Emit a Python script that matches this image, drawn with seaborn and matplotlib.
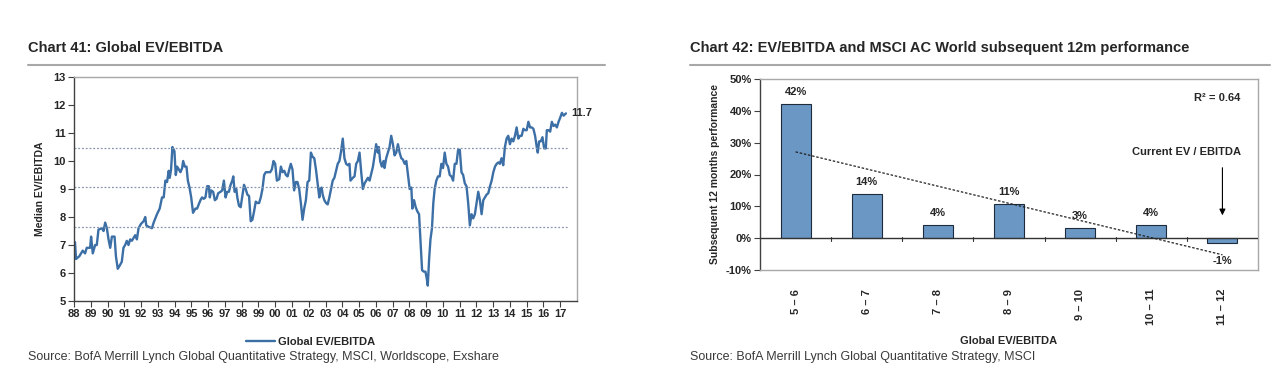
import numpy as np
import pandas as pd
import seaborn as sns
import matplotlib.pyplot as plt
from matplotlib import font_manager
from matplotlib.lines import Line2D

# Chart 41: median global EV/EBITDA (decimal years)
ev_dates = [
    1988.00, 1988.06, 1988.12, 1988.32, 1988.52, 1988.66, 1988.76, 1988.96, 1989.02, 1989.12,
    1989.26, 1989.36, 1989.46, 1989.66, 1989.76, 1989.86, 1989.96, 1990.06, 1990.16, 1990.26,
    1990.42, 1990.50, 1990.61, 1990.71, 1990.85, 1990.95, 1991.05, 1991.15, 1991.25, 1991.35,
    1991.45, 1991.65, 1991.75, 1991.85, 1991.99, 1992.15, 1992.25, 1992.31, 1992.45, 1992.65,
    1992.75, 1992.95, 1993.11, 1993.25, 1993.35, 1993.45, 1993.55, 1993.65, 1993.71, 1993.79,
    1993.87, 1993.99, 1994.07, 1994.15, 1994.25, 1994.35, 1994.45, 1994.51, 1994.61, 1994.71,
    1994.79, 1994.89, 1994.99, 1995.10, 1995.24, 1995.34, 1995.44, 1995.54, 1995.64, 1995.74,
    1995.84, 1995.94, 1996.04, 1996.10, 1996.18, 1996.30, 1996.40, 1996.50, 1996.60, 1996.74,
    1996.84, 1996.94, 1997.04, 1997.14, 1997.24, 1997.34, 1997.44, 1997.50, 1997.58, 1997.68,
    1997.74, 1997.84, 1997.94, 1998.04, 1998.14, 1998.24, 1998.34, 1998.44, 1998.54, 1998.64,
    1998.74, 1998.84, 1998.94, 1999.04, 1999.14, 1999.24, 1999.34, 1999.44, 1999.54, 1999.70,
    1999.80, 1999.90, 2000.00, 2000.10, 2000.24, 2000.34, 2000.44, 2000.54, 2000.64, 2000.74,
    2000.84, 2000.93, 2001.03, 2001.13, 2001.23, 2001.33, 2001.43, 2001.53, 2001.63, 2001.73,
    2001.83, 2001.93, 2002.03, 2002.13, 2002.23, 2002.33, 2002.43, 2002.53, 2002.63, 2002.69,
    2002.77, 2002.83, 2002.93, 2003.03, 2003.13, 2003.23, 2003.33, 2003.43, 2003.53, 2003.63,
    2003.73, 2003.83, 2003.93, 2004.03, 2004.13, 2004.23, 2004.33, 2004.43, 2004.49, 2004.63,
    2004.73, 2004.83, 2004.93, 2005.03, 2005.13, 2005.23, 2005.33, 2005.43, 2005.53, 2005.63,
    2005.73, 2005.83, 2005.93, 2006.02, 2006.12, 2006.18, 2006.26, 2006.36, 2006.46, 2006.52,
    2006.62, 2006.72, 2006.82, 2006.92, 2007.02, 2007.12, 2007.22, 2007.32, 2007.42, 2007.52,
    2007.62, 2007.72, 2007.82, 2007.92, 2008.02, 2008.12, 2008.18, 2008.28, 2008.38, 2008.48,
    2008.58, 2008.68, 2008.76, 2008.86, 2008.96, 2009.04, 2009.10, 2009.18, 2009.26, 2009.35,
    2009.43, 2009.51, 2009.61, 2009.71, 2009.81, 2009.91, 2010.01, 2010.11, 2010.21, 2010.31,
    2010.41, 2010.51, 2010.61, 2010.71, 2010.81, 2010.91, 2011.01, 2011.11, 2011.21, 2011.31,
    2011.41, 2011.51, 2011.61, 2011.71, 2011.81, 2011.91, 2012.01, 2012.11, 2012.21, 2012.31,
    2012.41, 2012.51, 2012.61, 2012.71, 2012.81, 2012.91, 2013.01, 2013.11, 2013.21, 2013.31,
    2013.40, 2013.50, 2013.60, 2013.70, 2013.80, 2013.90, 2014.00, 2014.10, 2014.20, 2014.30,
    2014.40, 2014.50, 2014.60, 2014.70, 2014.80, 2014.90, 2015.00, 2015.10, 2015.20, 2015.30,
    2015.40, 2015.50, 2015.60, 2015.66, 2015.74, 2015.84, 2015.94, 2016.04, 2016.14, 2016.20,
    2016.30, 2016.40, 2016.50, 2016.60, 2016.70, 2016.80, 2016.90, 2017.00, 2017.10, 2017.20,
    2017.34,
]
ev_values = [
    7.00, 7.10, 6.50, 6.60, 6.80, 6.70, 6.90, 6.90, 7.30, 6.70,
    7.00, 7.00, 7.55, 7.60, 7.50, 7.80, 7.60, 7.20, 6.90, 7.30,
    7.30, 6.60, 6.15, 6.25, 6.40, 6.90, 7.00, 7.15, 7.00, 7.20,
    7.15, 7.35, 7.20, 7.60, 7.75, 7.85, 8.00, 7.70, 7.65, 7.60,
    7.80, 8.10, 8.30, 8.70, 8.70, 9.30, 9.25, 9.65, 9.40, 9.70,
    10.50, 10.35, 9.50, 9.80, 9.70, 9.60, 9.75, 10.00, 9.80, 9.80,
    9.30, 9.05, 8.70, 8.15, 8.30, 8.30, 8.45, 8.60, 8.70, 8.65,
    8.70, 9.10, 9.10, 8.70, 8.95, 8.90, 8.60, 8.65, 8.85, 8.90,
    8.95, 9.30, 8.70, 8.90, 8.90, 9.15, 9.30, 9.45, 8.90, 9.00,
    8.70, 8.40, 8.35, 8.75, 9.15, 9.00, 8.80, 8.75, 7.85, 7.90,
    8.20, 8.55, 8.50, 8.50, 8.70, 9.00, 9.50, 9.60, 9.60, 9.60,
    9.70, 10.00, 9.90, 9.30, 9.35, 9.80, 9.60, 9.65, 9.50, 9.45,
    9.70, 9.90, 9.70, 8.95, 9.25, 9.25, 9.00, 8.50, 7.90, 8.30,
    8.60, 9.25, 9.30, 10.30, 10.15, 10.10, 9.70, 9.20, 8.70, 9.00,
    9.05, 8.80, 8.60, 8.50, 8.45, 8.70, 9.00, 9.30, 9.40, 9.65,
    9.90, 10.00, 10.35, 10.80, 10.10, 9.90, 9.85, 9.90, 9.30, 9.40,
    9.45, 9.90, 10.00, 10.30, 9.60, 9.00, 9.20, 9.30, 9.40, 9.30,
    9.55, 9.80, 10.20, 10.60, 10.30, 10.50, 10.00, 9.80, 10.00, 9.75,
    10.10, 10.30, 10.50, 10.90, 10.60, 10.20, 10.30, 10.60, 10.30, 10.10,
    10.05, 9.90, 10.00, 9.50, 9.00, 9.05, 8.30, 8.60, 8.35, 8.20,
    8.10, 7.00, 6.10, 6.05, 6.05, 5.80, 5.55, 6.50, 7.20, 7.60,
    8.50, 9.00, 9.30, 9.45, 9.45, 9.90, 9.75, 10.30, 9.90, 9.80,
    9.50, 9.45, 9.30, 9.90, 9.90, 10.40, 10.40, 9.60, 9.50, 9.20,
    9.10, 8.50, 7.70, 8.10, 7.95, 8.10, 8.50, 8.90, 8.60, 8.10,
    8.60, 8.70, 8.80, 8.85, 9.10, 9.30, 9.60, 9.80, 9.90, 9.95,
    9.90, 10.10, 9.85, 10.50, 10.80, 10.90, 10.60, 10.80, 10.70, 10.90,
    11.20, 10.80, 10.90, 10.90, 11.15, 11.10, 11.10, 11.40, 11.20, 11.20,
    11.15, 10.90, 10.50, 10.30, 10.70, 10.70, 10.85, 10.45, 10.45, 11.10,
    11.10, 11.05, 11.40, 11.25, 11.30, 11.20, 11.40, 11.55, 11.72, 11.62,
    11.70,
]
band_levels = [10.47, 9.07, 7.66]
year_ticks = list(range(1988, 2018))

# Chart 42: subsequent 12m performance by EV/EBITDA bucket
buckets = ["5 – 6", "6 – 7", "7 – 8", "8 – 9", "9 – 10", "10 – 11", "11 – 12"]
perf = [42.0, 14.0, 4.0, 10.7, 3.3, 4.0, -1.4]
r2_text = "R² = 0.64"
perf_ticks = [-10, 0, 10, 20, 30, 40, 50]

sns.set_style("white")
names = {f.name for f in font_manager.fontManager.ttflist}
narrow = "Liberation Sans Narrow" if "Liberation Sans Narrow" in names else "Liberation Sans"
plt.rcParams["font.family"] = ["Liberation Sans", "DejaVu Sans"]

W, H = 1280, 387
fig = plt.figure(figsize=(12.8, 3.87), dpi=100)
ax1 = fig.add_axes([74 / W, 1 - 301 / H, 503 / W, 224 / H])
ax2 = fig.add_axes([760 / W, 1 - 270 / H, 498 / W, 191 / H])

dark = "#404040"
light = "#a8a8a8"

# ---- left: line chart
line_blue = "#3b6fa6"
sns.lineplot(x=ev_dates, y=ev_values, ax=ax1, color=line_blue, lw=1.7,
             label="Global EV/EBITDA", sort=False, estimator=None)
for lv in band_levels:
    ax1.hlines(lv, ev_dates[0], ev_dates[-1] + 0.15, colors="#8797b0",
               linestyles=(0, (1.5, 1.5)), lw=0.9)
ax1.set_xlim(1988, 2018)
ax1.set_ylim(5, 13)
ax1.set_xticks(year_ticks)
ax1.set_xticklabels([f"{y % 100:02d}" for y in year_ticks])
ax1.set_yticks(range(5, 14))
ax1.tick_params(bottom=True, left=True, direction="out", length=4, width=0.8,
                color=dark, labelsize=8, pad=2)
for lbl in ax1.get_xticklabels() + ax1.get_yticklabels():
    lbl.set_fontweight("bold")
ax1.set_ylabel("Median EV/EBITDA", fontsize=7.5, fontweight="bold", labelpad=6)
ax1.set_xlabel("")
for side in ["left", "bottom"]:
    ax1.spines[side].set_color(dark)
for side in ["top", "right"]:
    ax1.spines[side].set_color(light)
for s in ax1.spines.values():
    s.set_linewidth(1.0)
ax1.annotate(f"{ev_values[-1]:.1f}", (ev_dates[-1], ev_values[-1]), xytext=(4, 0),
             textcoords="offset points", va="center", fontsize=8, fontweight="bold")
leg = ax1.legend(loc="upper center", bbox_to_anchor=(0.47, -0.115), frameon=False,
                 fontsize=8, handlelength=2.6, handletextpad=0.3)
for t in leg.get_texts():
    t.set_fontweight("bold")

# ---- right: bar chart
df = pd.DataFrame({"bucket": buckets, "perf": perf})
sns.barplot(data=df, x="bucket", y="perf", ax=ax2, color="#6b97c4", saturation=1,
            width=0.42, edgecolor="#1d2b3d", linewidth=0.8)
ax2.set_xlim(-0.5, len(buckets) - 0.5)
ax2.set_ylim(-10, 50)
ax2.set_yticks(perf_ticks)
ax2.set_yticklabels([f"{v}%" for v in perf_ticks])
ax2.axhline(0, color="#333333", lw=1.0, zorder=3)
for b in np.arange(len(buckets) - 1) + 0.5:
    ax2.plot([b, b], [-0.9, 0.4], color="#333333", lw=0.8, zorder=3)

xs = np.arange(len(perf))
coef = np.polyfit(xs, perf, 1)
ends = np.array([xs[0], xs[-1]])
ax2.plot(ends, np.polyval(coef, ends), color="#222222", ls=(0, (2, 1.4)), lw=0.9, zorder=4)

for i, v in enumerate(perf):
    ax2.text(i, v + 3.8 if v >= 0 else v - 5.8, f"{v:.0f}%", ha="center", va="center",
             fontsize=8, fontweight="bold")

ax2.text(0.965, 0.9, r2_text, transform=ax2.transAxes, ha="right", va="center",
         fontsize=8, fontweight="bold")
ax2.annotate("", xy=(len(perf) - 1, 6.3), xytext=(len(perf) - 1, 23),
             arrowprops=dict(arrowstyle="-|>", color="black", lw=0.8, mutation_scale=9))
ax2.text(0.857, 0.618, "Current EV / EBITDA", transform=ax2.transAxes, ha="center",
         va="center", fontsize=8, fontweight="bold")

ax2.tick_params(axis="y", left=True, direction="out", length=4, width=0.8, color=dark,
                labelsize=8, pad=2)
ax2.tick_params(axis="x", bottom=False, labelsize=8, pad=10)
for lbl in ax2.get_xticklabels():
    lbl.set_rotation(90)
    lbl.set_va("top")
for lbl in ax2.get_xticklabels() + ax2.get_yticklabels():
    lbl.set_fontweight("bold")
ax2.set_xlabel("Global EV/EBITDA", fontsize=8, fontweight="bold", labelpad=8)
ax2.set_ylabel("Subsequent 12 months performance", fontsize=7.5, fontweight="bold",
               labelpad=4)
ax2.spines["left"].set_color(dark)
for side in ["top", "right", "bottom"]:
    ax2.spines[side].set_color(light)
for s in ax2.spines.values():
    s.set_linewidth(1.0)

# ---- titles, rules, sources
title_font = [narrow, "DejaVu Sans"]
fig.text(28 / W, 1 - 48 / H, "Chart 41: Global EV/EBITDA", fontsize=10.5,
         fontweight="bold", family=title_font, va="center")
fig.text(690 / W, 1 - 48 / H, "Chart 42: EV/EBITDA and MSCI AC World subsequent 12m performance",
         fontsize=10.5, fontweight="bold", family=title_font, va="center")
fig.add_artist(Line2D([28 / W, 605 / W], [1 - 65 / H] * 2, color=light, lw=1.5))
fig.add_artist(Line2D([690 / W, 1270 / W], [1 - 65 / H] * 2, color=light, lw=1.5))
fig.text(28 / W, 1 - 357 / H,
         "Source: BofA Merrill Lynch Global Quantitative Strategy, MSCI, Worldscope, Exshare",
         fontsize=9, color="#3a3a3a", family=title_font, va="center")
fig.text(690 / W, 1 - 357 / H, "Source: BofA Merrill Lynch Global Quantitative Strategy, MSCI",
         fontsize=9, color="#3a3a3a", family=title_font, va="center")

fig.savefig("out.png", dpi=100, facecolor="white")
